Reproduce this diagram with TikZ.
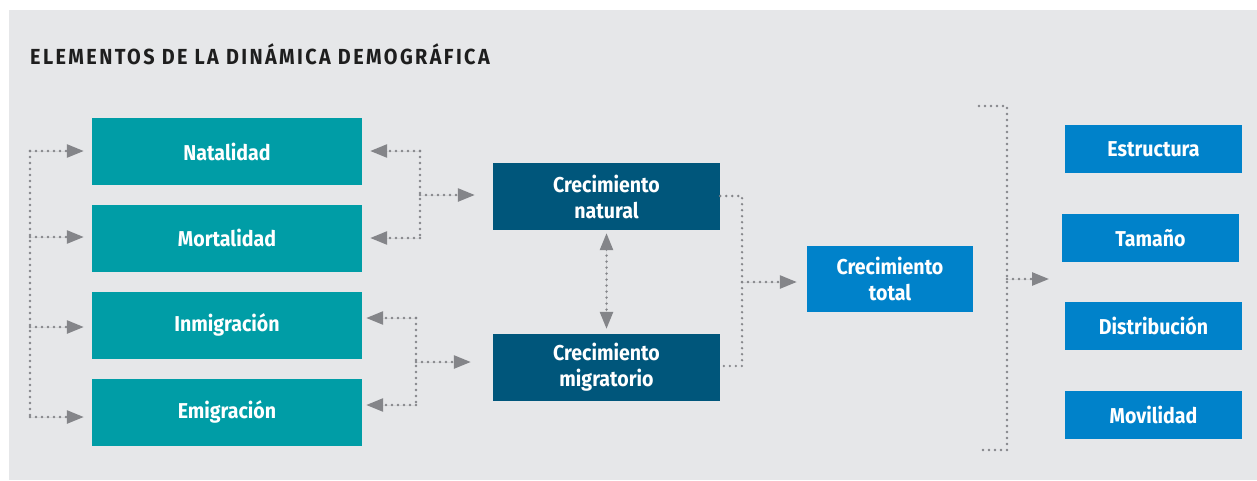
\documentclass[tikz,border=0pt]{standalone}
\usepackage{fontspec}
\setmainfont{Fira Sans}[FakeStretch=0.91]
\newfontfamily\titlefont{Fira Sans}[FakeStretch=0.91,LetterSpace=11]
\usetikzlibrary{arrows.meta}
\definecolor{bgc}{HTML}{E6E7E9}
\definecolor{tealc}{HTML}{009DA6}
\definecolor{darkc}{HTML}{00567B}
\definecolor{bluec}{HTML}{0082CA}
\definecolor{grayc}{HTML}{848589}
\definecolor{titlec}{HTML}{1E1E1E}
\tikzset{
  box/.style={rectangle, draw=none, text=white, align=center, inner sep=0pt,
    font=\fontsize{21.5}{26}\selectfont\bfseries},
  tealbox/.style={box, fill=tealc, minimum width=270pt, minimum height=67pt},
  darkbox/.style={box, fill=darkc, minimum width=227pt, minimum height=67pt},
  totalbox/.style={box, fill=bluec, minimum width=166pt, minimum height=66pt},
  outbox/.style={box, fill=bluec, minimum width=177pt, minimum height=48pt},
  dotline/.style={draw=grayc, line width=2.6pt, line cap=round, dash pattern=on 0pt off 6pt},
  dotarrow/.style={dotline, -{Triangle[length=17pt,width=13pt]}, fill=grayc},
  dotdouble/.style={dotline, {Triangle[length=17pt,width=13pt]}-{Triangle[length=17pt,width=13pt]}, fill=grayc},
}
\begin{document}
\begin{tikzpicture}[x=1pt,y=-1pt]
\useasboundingbox (0,0) rectangle (1257,480);
\fill[bgc] (9,10) rectangle (1257,480);
\node[anchor=base west, inner sep=0pt, text=titlec, font=\titlefont\fontsize{21.8}{26}\selectfont\bfseries] (title) at (30,64) {ELEMENTOS DE LA DINÁMICA DEMOGRÁFICA};

\node[tealbox] (nat) at (227,151.5) {Natalidad};
\node[tealbox] (mor) at (227,238) {Mortalidad};
\node[tealbox] (inm) at (227,325) {Inmigración};
\node[tealbox] (emi) at (227,412) {Emigración};
\node[darkbox] (cn) at (606.5,196.5) {Crecimiento\\natural};
\node[darkbox] (cm) at (606.5,367.5) {Crecimiento\\migratorio};
\node[totalbox] (ct) at (890,278.5) {Crecimiento\\total};
\node[outbox] (est) at (1153.5,149) {Estructura};
\node[outbox] (tam) at (1150.5,238) {Tamaño};
\node[outbox] (dis) at (1153.5,326) {Distribución};
\node[outbox] (mov) at (1153.5,415) {Movilidad};

% left bracket
\coordinate (l1) at (30,151);
\coordinate (l2) at (30,237);
\coordinate (l3) at (30,327);
\coordinate (l4) at (30,417);
\draw[dotline] (l1) -- (l4);
\draw[dotarrow, shorten >=8pt] (l1) -- (l1 -| nat.west);
\draw[dotarrow, shorten >=8pt] (l2) -- (l2 -| mor.west);
\draw[dotarrow, shorten >=8pt] (l3) -- (l3 -| inm.west);
\draw[dotarrow, shorten >=8pt] (l4) -- (l4 -| emi.west);

% natalidad/mortalidad -> crecimiento natural
\coordinate (a1) at (420,151);
\coordinate (a2) at (420,238);
\coordinate (a3) at (420,195);
\draw[dotline] (a1) -- (a2);
\draw[dotarrow, shorten >=8pt] (a1) -- (a1 -| nat.east);
\draw[dotarrow, shorten >=8pt] (a2) -- (a2 -| mor.east);
\draw[dotarrow, shorten >=18pt] (a3) -- (a3 -| cn.west);

% inmigracion/emigracion -> crecimiento migratorio
\coordinate (b1) at (416,318);
\coordinate (b2) at (416,405);
\coordinate (b3) at (416,362);
\draw[dotline] (b1) -- (b2);
\draw[dotarrow, shorten >=4pt] (b1) -- (b1 -| inm.east);
\draw[dotarrow, shorten >=4pt] (b2) -- (b2 -| emi.east);
\draw[dotarrow, shorten >=22pt] (b3) -- (b3 -| cm.west);

% natural <-> migratorio
\draw[dotdouble, shorten <=3pt, shorten >=5pt] (cn.south) -- (cm.north);

% join -> total
\coordinate (c1) at (742,196);
\coordinate (c2) at (742,366);
\coordinate (c3) at (742,282);
\draw[dotline] (c1 -| cn.east) -- (c1) -- (c2) -- (c2 -| cm.east);
\draw[dotarrow, shorten >=10pt] (c3) -- (c3 -| ct.west);

% right bracket
\coordinate (r1) at (979,106);
\coordinate (r2) at (1007,106);
\coordinate (r3) at (1007,450);
\coordinate (r4) at (979,450);
\coordinate (r5) at (1007,279);
\coordinate (r6) at (1049,279);
\draw[dotline] (r1) -- (r2) -- (r3) -- (r4);
\draw[dotarrow] (r5) -- (r6);
\end{tikzpicture}
\end{document}
